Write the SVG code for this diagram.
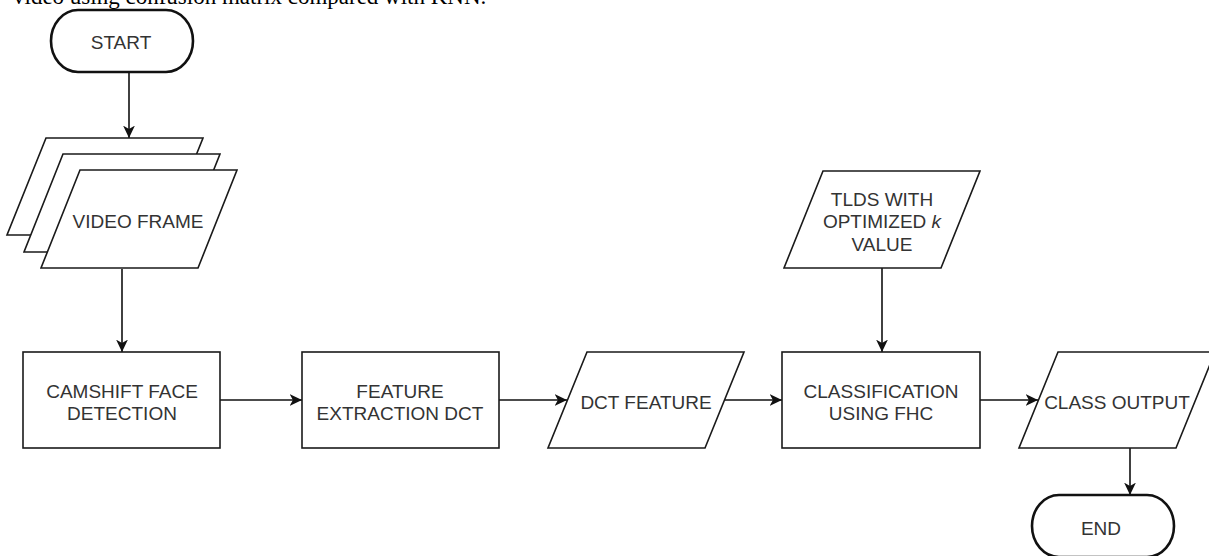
<svg xmlns="http://www.w3.org/2000/svg" width="1209" height="556" viewBox="0 0 1209 556">
  <style>
    .shape { fill: #ffffff; stroke: #1a1a1a; stroke-width: 1.6; }
    .term { fill: #ffffff; stroke: #111111; stroke-width: 2.6; }
    .label { font-family: "Liberation Sans", Arial, sans-serif; font-size: 19px; fill: #333333; text-anchor: middle; }
    .edge { fill: none; stroke: #111111; stroke-width: 1.6; marker-end: url(#arrow); }
    .caption { font-family: "Liberation Serif", "Times New Roman", serif; font-size: 23px; fill: #000000; }
  </style>
  <defs>
    <marker id="arrow" markerUnits="userSpaceOnUse" markerWidth="13" markerHeight="13" viewBox="0 0 11 10" refX="10.5" refY="5" orient="auto">
      <path d="M0,0 L10.5,5 L0,10 L2.8,5 Z" fill="#111111"/>
    </marker>
  </defs>

  <rect width="1209" height="556" fill="#ffffff"/>

  <!-- caption line running off the top edge -->
  <text class="caption" x="13" y="4">video using confusion matrix compared with KNN.</text>

  <!-- connectors -->
  <g id="connectors">
    <line class="edge" x1="129" y1="72" x2="129" y2="138"/>
    <line class="edge" x1="122" y1="269" x2="122" y2="352"/>
    <line class="edge" x1="220" y1="400" x2="302" y2="400"/>
    <line class="edge" x1="499" y1="400" x2="567" y2="400"/>
    <line class="edge" x1="725" y1="400" x2="782" y2="400"/>
    <line class="edge" x1="882" y1="268" x2="882" y2="352"/>
    <line class="edge" x1="980" y1="400" x2="1038" y2="400"/>
    <line class="edge" x1="1130" y1="448" x2="1130" y2="495"/>
  </g>

  <g id="start">
    <rect class="term" x="51" y="10" width="142" height="62" rx="27" ry="31"/>
    <text class="label" x="121" y="49">START</text>
  </g>

  <g id="video-frame">
    <polygon class="shape" points="46,138 203,138 164,235 7,235"/>
    <polygon class="shape" points="63,154 220,154 181,252 24,252"/>
    <polygon class="shape" points="80,170 237,170 198,268 41,268"/>
    <text class="label" x="138" y="228">VIDEO FRAME</text>
  </g>

  <g id="camshift">
    <rect class="shape" x="23" y="352" width="197" height="96"/>
    <text class="label" x="122" y="398">CAMSHIFT FACE</text>
    <text class="label" x="122" y="420">DETECTION</text>
  </g>

  <g id="feature-extraction">
    <rect class="shape" x="302" y="352" width="197" height="96"/>
    <text class="label" x="400" y="398">FEATURE</text>
    <text class="label" x="400" y="420">EXTRACTION DCT</text>
  </g>

  <g id="dct-feature">
    <polygon class="shape" points="587,352 744,352 705,448 548,448"/>
    <text class="label" x="646" y="409">DCT FEATURE</text>
  </g>

  <g id="tlds">
    <polygon class="shape" points="823,171 980,171 941,268 784,268"/>
    <text class="label" x="882" y="206">TLDS WITH</text>
    <text class="label" x="882" y="228">OPTIMIZED <tspan font-style="italic">k</tspan></text>
    <text class="label" x="882" y="251">VALUE</text>
  </g>

  <g id="classification">
    <rect class="shape" x="782" y="352" width="198" height="96"/>
    <text class="label" x="881" y="398">CLASSIFICATION</text>
    <text class="label" x="881" y="420">USING FHC</text>
  </g>

  <g id="class-output">
    <polygon class="shape" points="1058,352 1215,352 1176,448 1019,448"/>
    <text class="label" x="1117" y="409">CLASS OUTPUT</text>
  </g>

  <g id="end">
    <rect class="term" x="1032" y="495" width="142" height="62" rx="27" ry="31"/>
    <text class="label" x="1101" y="535">END</text>
  </g>
</svg>
